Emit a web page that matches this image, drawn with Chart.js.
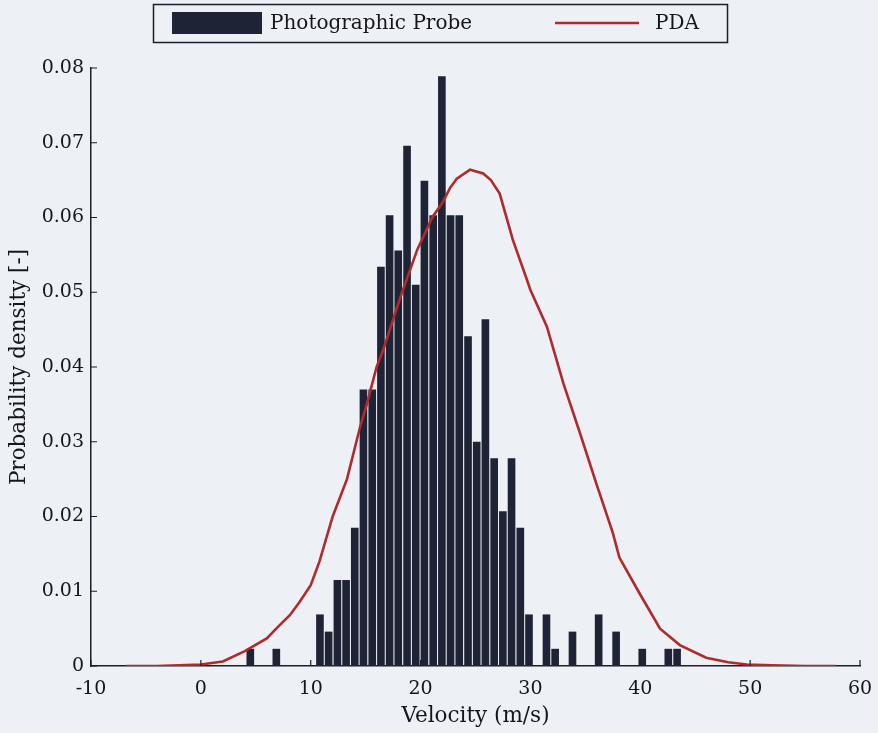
<!DOCTYPE html>
<html>
<head>
<meta charset="utf-8">
<script src="https://cdn.jsdelivr.net/npm/chart.js@4.4.1/dist/chart.umd.min.js"></script>
<style>
  html, body { margin: 0; padding: 0; background: #edf0f5; }
  #wrap { width: 878px; height: 733px; position: relative; }
</style>
</head>
<body>
<div id="wrap"><canvas id="chart"></canvas></div>
<script>
// Histogram bin centres (m/s) and densities for the photographic probe
const velocityBins = [
  4.50, 5.29, 6.08, 6.87, 7.67, 8.46, 9.25, 10.05, 10.84, 11.63,
  12.43, 13.22, 14.01, 14.80, 15.60, 16.39, 17.18, 17.97, 18.77, 19.56,
  20.35, 21.15, 21.94, 22.73, 23.52, 24.32, 25.11, 25.90, 26.70, 27.49,
  28.28, 29.08, 29.87, 30.66, 31.46, 32.25, 33.04, 33.83, 34.63, 35.42,
  36.21, 37.00, 37.80, 38.59, 39.38, 40.18, 40.97, 41.76, 42.55, 43.35,
];
const probeDensity = [
  0.0023, 0, 0, 0.0023, 0, 0, 0, 0, 0.0069, 0.0046,
  0.0115, 0.0115, 0.0185, 0.0370, 0.0370, 0.0534, 0.0603, 0.0556, 0.0696, 0.0510,
  0.0649, 0.0603, 0.0789, 0.0603, 0.0603, 0.0441, 0.0300, 0.0464, 0.0278, 0.0207,
  0.0278, 0.0185, 0.0069, 0, 0.0069, 0.0023, 0, 0.0046, 0, 0,
  0.0069, 0, 0.0046, 0, 0, 0.0023, 0, 0, 0.0023, 0.0023,
];

// PDA curve
const pdaVelocity = [
  -6.8, -4, -2, 0, 2, 4, 6, 7.2, 8.1, 9.0,
  10.0, 10.8, 12.0, 13.3, 14.5, 15.1, 16.0, 16.6, 18.2, 19.7,
  21.1, 22.0, 22.7, 23.3, 24.5, 25.7, 26.4, 27.2, 28.4, 29.6,
  30.0, 31.5, 33.0, 34.5, 36.0, 37.5, 38.1, 39.9, 41.8, 43.6,
  46.0, 48.0, 49.7, 52.0, 55.0, 57.8,
];
const pdaDensity = [
  0, 0, 0.0001, 0.0002, 0.0006, 0.0020, 0.0037, 0.0055, 0.0068, 0.0086,
  0.0108, 0.0140, 0.0200, 0.0250, 0.0320, 0.0350, 0.0400, 0.0423, 0.0495, 0.0557,
  0.0601, 0.0620, 0.0640, 0.0652, 0.0664, 0.0659, 0.0650, 0.0632, 0.0570, 0.0520,
  0.0503, 0.0454, 0.0378, 0.0312, 0.0244, 0.0178, 0.0145, 0.0098, 0.0050, 0.0028,
  0.0011, 0.0005, 0.0002, 0.0001, 0, 0,
];

const seriesLabels = ["Photographic Probe", "PDA"];

const barColor = "#1e2335";
const lineColor = "#b02a2c";
const axisColor = "#1b1f2b";
const textColor = "#15161c";
const fontFamily = "'DejaVu Serif', serif";

Chart.defaults.font.family = fontFamily;
Chart.defaults.font.size = 19;
Chart.defaults.color = textColor;

// Matlab style ticks pointing into the plot
const inwardTicks = {
  id: "inwardTicks",
  afterDatasetsDraw(chart) {
    const { ctx, chartArea, scales } = chart;
    ctx.save();
    ctx.strokeStyle = axisColor;
    ctx.lineWidth = 1.2;
    ctx.beginPath();
    scales.x.ticks.forEach((t) => {
      const px = scales.x.getPixelForValue(t.value);
      ctx.moveTo(px, chartArea.bottom);
      ctx.lineTo(px, chartArea.bottom - 6);
    });
    scales.y.ticks.forEach((t) => {
      const py = scales.y.getPixelForValue(t.value);
      ctx.moveTo(chartArea.left, py);
      ctx.lineTo(chartArea.left + 6, py);
    });
    ctx.stroke();
    ctx.restore();
  },
};

// Boxed legend across the top
const boxedLegend = {
  id: "boxedLegend",
  afterDraw(chart) {
    const ctx = chart.ctx;
    const [bars, pda] = chart.data.datasets;
    ctx.save();
    ctx.strokeStyle = axisColor;
    ctx.lineWidth = 1.5;
    ctx.strokeRect(153.5, 4.5, 574, 38);

    ctx.fillStyle = barColor;
    ctx.fillRect(172, 12, 90, 22);

    ctx.font = "20px " + fontFamily;
    ctx.fillStyle = textColor;
    ctx.textBaseline = "middle";
    ctx.fillText(bars.label, 270, 24);

    ctx.strokeStyle = pda.borderColor;
    ctx.lineWidth = 2.5;
    ctx.beginPath();
    ctx.moveTo(555, 23);
    ctx.lineTo(639, 23);
    ctx.stroke();
    ctx.fillText(pda.label, 655, 24);
    ctx.restore();
  },
};

new Chart(document.getElementById("chart"), {
  data: {
    datasets: [
      {
        type: "bar",
        label: seriesLabels[0],
        data: velocityBins.map((v, i) => ({ x: v, y: probeDensity[i] })),
        backgroundColor: barColor,
        borderWidth: 0,
        barPercentage: 0.88,
        categoryPercentage: 1,
        order: 1,
      },
      {
        type: "line",
        label: seriesLabels[1],
        data: pdaVelocity.map((v, i) => ({ x: v, y: pdaDensity[i] })),
        borderColor: lineColor,
        borderWidth: 2.6,
        pointRadius: 0,
        tension: 0,
        order: 0,
      },
    ],
  },
  options: {
    responsive: true,
    maintainAspectRatio: false,
    animation: false,
    layout: { padding: { top: 68, right: 18, bottom: 4, left: 0 } },
    plugins: { legend: { display: false }, tooltip: { enabled: false } },
    scales: {
      x: {
        type: "linear",
        min: -10,
        max: 60,
        offset: false,
        ticks: { stepSize: 10, padding: 12 },
        grid: { display: false, drawTicks: false, offset: false },
        border: { display: true, color: axisColor, width: 1.5 },
        title: { display: true, text: "Velocity (m/s)", font: { size: 21.5 }, padding: 0 },
        afterFit: (s) => {
          s.height = 63;
          s.paddingLeft = 0;
          s.paddingRight = 0;
        },
      },
      y: {
        min: 0,
        max: 0.08,
        ticks: {
          stepSize: 0.01,
          padding: 7,
          callback: (v) => (v === 0 ? "0" : v.toFixed(2)),
        },
        grid: { display: false, drawTicks: false },
        border: { display: true, color: axisColor, width: 1.5 },
        title: { display: true, text: "Probability density [-]", font: { size: 21.5 }, padding: 7 },
        afterFit: (s) => { s.width = 91; },
      },
    },
  },
  plugins: [inwardTicks, boxedLegend],
});
</script>
</body>
</html>
